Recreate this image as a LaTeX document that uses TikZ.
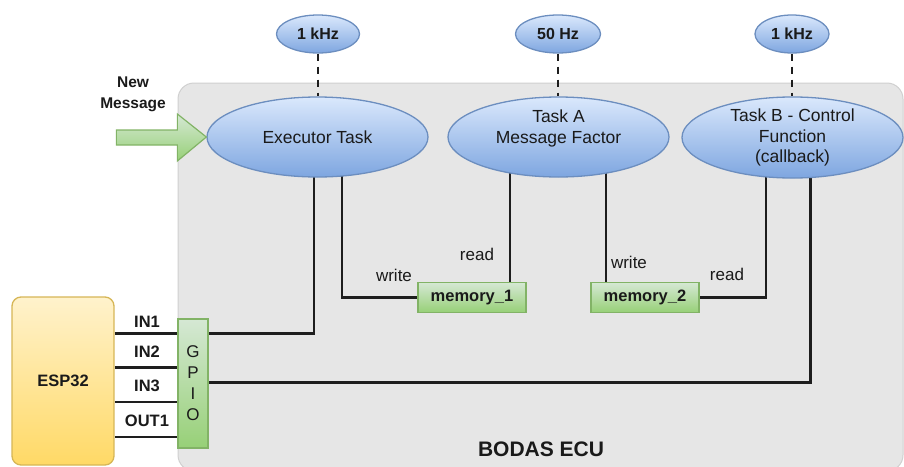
\documentclass[tikz,border=0pt]{standalone}
\usepackage{fontspec}
\setmainfont{Liberation Sans}
\usetikzlibrary{shapes.geometric,calc}
\pgfdeclarelayer{back}
\pgfdeclarelayer{wires}
\pgfsetlayers{back,wires,main}
\definecolor{ecufill}{HTML}{E6E6E6}
\definecolor{eculine}{HTML}{D0D0D0}
\definecolor{bluetop}{HTML}{DAE8FC}
\definecolor{bluebot}{HTML}{7EA6E0}
\definecolor{blueline}{HTML}{6C8EBF}
\definecolor{greentop}{HTML}{D5E8D4}
\definecolor{greenbot}{HTML}{97D077}
\definecolor{greenline}{HTML}{82B366}
\definecolor{yeltop}{HTML}{FFF2CC}
\definecolor{yelbot}{HTML}{FFD966}
\definecolor{yelline}{HTML}{D6B656}
\definecolor{wirecol}{HTML}{1E1E1E}
\definecolor{txt}{HTML}{1A1A1A}
\tikzset{
  ecubox/.style={rectangle, fill=ecufill, draw=eculine, line width=1pt, rounded corners=16pt, inner sep=0pt},
  freq/.style={ellipse, draw=blueline, line width=1.3pt, top color=bluetop, bottom color=bluebot,
    minimum height=38pt, inner sep=0pt, text=txt, font=\bfseries\fontsize{16}{19}\selectfont},
  task/.style={ellipse, draw=blueline, line width=1.3pt, top color=bluetop, bottom color=bluebot,
    minimum width=221pt, minimum height=80pt, inner sep=0pt, align=center, text=txt,
    font=\fontsize{17.5}{20.5}\selectfont},
  membox/.style={rectangle, draw=greenline, line width=1.3pt, top color=greentop, bottom color=greenbot,
    minimum width=108pt, minimum height=30pt, inner sep=0pt, text=txt, font=\bfseries\fontsize{16.5}{19}\selectfont},
  gpiobox/.style={rectangle, draw=greenline, line width=1.3pt, top color=greentop, bottom color=greenbot,
    minimum width=30pt, minimum height=129pt, inner sep=0pt, align=center, text=txt,
    font=\fontsize{17}{21}\selectfont},
  espbox/.style={rectangle, rounded corners=9pt, draw=yelline, line width=1.3pt, top color=yeltop, bottom color=yelbot,
    minimum width=102pt, minimum height=168pt, inner sep=0pt, text=txt, font=\bfseries\fontsize{16.5}{19}\selectfont},
  wire/.style={draw=wirecol, line width=2.4pt},
  dashwire/.style={wire, dash pattern=on 7pt off 6pt},
  lbl/.style={inner sep=0pt, text=txt, font=\fontsize{17}{20}\selectfont},
  blbl/.style={inner sep=0pt, text=txt, font=\bfseries\fontsize{16.5}{19}\selectfont},
  newarrow/.style={draw=greenline, line width=1.2pt, top color=greentop, bottom color=greenbot}
}
\begin{document}
\begin{tikzpicture}[x=1pt,y=-1pt]
\useasboundingbox (0,0) rectangle (904,466);

% ECU area
\begin{pgfonlayer}{back}
\node[ecubox, minimum width=725pt, minimum height=388pt] (ecu) at (540.5,277) {};
\end{pgfonlayer}
\node[inner sep=0pt, text=txt, font=\bfseries\fontsize{21}{24}\selectfont] (ecutitle) at (541,449) {BODAS ECU};

% frequency ellipses
\node[freq, minimum width=83pt] (f1) at (318,34) {1 kHz};
\node[freq, minimum width=85pt] (f2) at (558,34) {50 Hz};
\node[freq, minimum width=74pt] (f3) at (792,34) {1 kHz};

% tasks
\node[task] (exec) at (317.5,137) {Executor Task};
\node[task] (ta) at (558.5,137) {Task A\\Message Factor\\\mbox{}};
\node[task] (tb) at (792.5,137.5) {Task B - Control\\Function\\(callback)};

% memories
\node[membox] (mem1) at (472,297.5) {memory\_1};
\node[membox] (mem2) at (645,297.5) {memory\_2};

% GPIO and ESP32
\node[gpiobox] (gpio) at (193,383.5) {G\\P\\I\\O};
\node[espbox] (esp) at (63,381) {ESP32};

% wire levels
\coordinate (y1) at (0,333.5);
\coordinate (y2) at (0,367.5);
\coordinate (y3) at (0,402);
\coordinate (y4) at (0,437);
\coordinate (yb) at (0,382.5);

\begin{pgfonlayer}{wires}
\draw[dashwire] (f1.south) -- (f1.south |- exec.north);
\draw[dashwire] (f2.south) -- (f2.south |- ta.north);
\draw[dashwire] (f3.south) -- (f3.south |- tb.north);

\draw[wire] ([xshift=-3.5pt]exec.center) |- (gpio.east |- y1);
\draw[wire] ([xshift=24.5pt]exec.center) |- (mem1.west);
\draw[wire] ([xshift=-48.5pt]ta.center) -- ([xshift=-48.5pt]ta.center |- mem1.north);
\draw[wire] ([xshift=47.5pt]ta.center) -- ([xshift=47.5pt]ta.center |- mem2.north);
\draw[wire] ([xshift=-26.5pt]tb.center) |- (mem2.east);
\draw[wire] ([xshift=18pt]tb.center) |- (gpio.east |- yb);

\draw[wire] (esp.east |- y1) -- (gpio.west |- y1);
\draw[wire] (esp.east |- y2) -- (gpio.west |- y2);
\draw[wire] (esp.east |- y3) -- (gpio.west |- y3);
\draw[wire] (esp.east |- y4) -- (gpio.west |- y4);
\end{pgfonlayer}

% pin labels
\node[blbl] (lin1) at (147,322) {IN1};
\node[blbl] (lin2) at (147,352) {IN2};
\node[blbl] (lin3) at (147,386) {IN3};
\node[blbl] (lout1) at (147,421) {OUT1};

% access labels
\node[lbl] (w1) at (394,275) {write};
\node[lbl] (r1) at (477,254) {read};
\node[lbl] (w2) at (629,262) {write};
\node[lbl] (r2) at (727,274) {read};

% new message arrow
\draw[newarrow] (exec.west) -- ++(-29,-23) -- ++(0,16) -- ++(-61,0) -- ++(0,15) -- ++(61,0) -- ++(0,16) -- cycle;
\node[blbl, align=center, font=\bfseries\fontsize{15.5}{21}\selectfont] (nm) at (133,94) {New\\Message};
\end{tikzpicture}
\end{document}
